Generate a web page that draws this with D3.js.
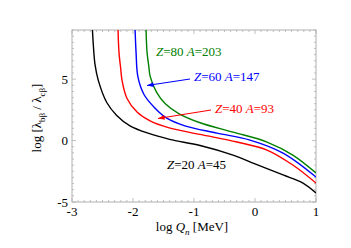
<!DOCTYPE html>
<html><head><meta charset="utf-8">
<script src="https://cdn.jsdelivr.net/npm/d3@7"></script>
<style>body{margin:0;background:#fff}svg{display:block}text{font-family:"Liberation Serif","Times New Roman",serif}</style>
</head><body><svg id="c" width="351" height="248"></svg>
<script>
const xTicks = [-3, -2, -1, 0, 1];
const yTicks = [-5, 0, 5];
const z20 = [[-2.667,9.2],[-2.65,7.76],[-2.623,6.2],[-2.569,4.9],[-2.43,3.1],[-2.267,2.05],[-2.049,1.2],[-1.754,0.6],[-1.4,0.1],[-0.9,-0.4],[-0.36,-1.18],[0.0,-1.9],[0.46,-2.8],[0.787,-3.46],[1.0,-4.27]];
const z40 = [[-2.246,9.2],[-2.23,7.2],[-2.2,5.8],[-2.18,4.9],[-2.1,3.45],[-1.93,2.3],[-1.72,1.6],[-1.42,1.05],[-0.9,0.5],[-0.295,-0.12],[0.197,-0.77],[0.62,-1.99],[1.0,-3.46]];
const z60 = [[-1.967,9.2],[-1.95,7.2],[-1.92,5.2],[-1.82,3.75],[-1.65,2.7],[-1.44,1.8],[-1.15,1.2],[-0.623,0.61],[-0.082,0.04],[0.46,-1.02],[1.0,-2.97]];
const z80 = [[-1.787,9.2],[-1.77,7.2],[-1.74,6.0],[-1.72,5.25],[-1.615,3.95],[-1.47,3.0],[-1.25,2.2],[-0.9,1.45],[-0.36,0.69],[0.197,-0.12],[0.62,-1.18],[1.0,-2.64]];
const seriesNames = ["Z=20 A=45","Z=40 A=93","Z=60 A=147","Z=80 A=203"];
const seriesColors = ["#000000","#ff0000","#0000ff","#008000"];

const svg = d3.select("#c");
const L=72,R=316,T=30,B=202;
const x = d3.scaleLinear().domain([-3,1]).range([L,R]);
const y = d3.scaleLinear().domain([-5,9]).range([B,T]);
const frame="#b0b0b0";

svg.append("defs").append("clipPath").attr("id","clip").append("rect").attr("x",L).attr("y",T).attr("width",R-L).attr("height",B-T);

// minor ticks
const g = svg.append("g");
const xMinor = d3.range(-3,1.0001,0.1);
const yMinor = d3.range(-5,9.0001,0.5);
xMinor.forEach(v=>{
  const major = Math.abs(v-Math.round(v))<1e-6;
  const len = major?4:2;
  g.append("line").attr("x1",x(v)).attr("x2",x(v)).attr("y1",B).attr("y2",B-len).attr("stroke",frame).attr("stroke-width",0.8);
  g.append("line").attr("x1",x(v)).attr("x2",x(v)).attr("y1",T).attr("y2",T+len).attr("stroke",frame).attr("stroke-width",0.8);
});
yMinor.forEach(v=>{
  const major = Math.abs(v/5-Math.round(v/5))<1e-6;
  const len = major?4:2;
  g.append("line").attr("y1",y(v)).attr("y2",y(v)).attr("x1",L).attr("x2",L+len).attr("stroke",frame).attr("stroke-width",0.8);
  g.append("line").attr("y1",y(v)).attr("y2",y(v)).attr("x1",R).attr("x2",R-len).attr("stroke",frame).attr("stroke-width",0.8);
});
g.append("rect").attr("x",L).attr("y",T).attr("width",R-L).attr("height",B-T).attr("fill","none").attr("stroke",frame).attr("stroke-width",1);

// tick labels
xTicks.forEach(v=>svg.append("text").attr("x",x(v)).attr("y",B+14).attr("text-anchor","middle").attr("font-size",13).text(v<0?"-"+Math.abs(v):v));
yTicks.forEach(v=>svg.append("text").attr("x",L-4).attr("y",y(v)+4.5).attr("text-anchor","end").attr("font-size",13).text(v<0?"-"+Math.abs(v):v));

// curves
const line = d3.line().x(d=>x(d[0])).y(d=>y(d[1])).curve(d3.curveCatmullRom.alpha(0.5));
[z20,z40,z60,z80].forEach((s,i)=>{
  svg.append("path").attr("d",line(s)).attr("clip-path","url(#clip)").attr("fill","none").attr("stroke",seriesColors[i]).attr("stroke-width",1.4);
});

// labels
function lab(px,py,name,color){
  const parts=name.split(" ");
  const z=parts[0].split("="), a=parts[1].split("=");
  const t=svg.append("text").attr("x",px).attr("y",py).attr("font-size",13).attr("fill",color);
  t.append("tspan").attr("font-style","italic").text(z[0]);
  t.append("tspan").text("="+z[1]+" ");
  t.append("tspan").attr("font-style","italic").text(a[0]);
  t.append("tspan").text("="+a[1]);
}
lab(156,56,seriesNames[3],seriesColors[3]);
lab(194,81,seriesNames[2],seriesColors[2]);
lab(215,113,seriesNames[1],seriesColors[1]);
lab(167,169,seriesNames[0],seriesColors[0]);

// arrows
function arrow(x1,y1,x2,y2,color){
  svg.append("line").attr("x1",x1).attr("y1",y1).attr("x2",x2).attr("y2",y2).attr("stroke",color).attr("stroke-width",1.2);
  const ang=Math.atan2(y2-y1,x2-x1), l=7, w=0.35;
  const p=[[x2,y2],[x2-l*Math.cos(ang-w),y2-l*Math.sin(ang-w)],[x2-l*Math.cos(ang+w),y2-l*Math.sin(ang+w)]];
  svg.append("path").attr("d","M"+p.map(q=>q.join(",")).join("L")+"Z").attr("fill",color);
}
arrow(190,79,147,85.5,seriesColors[2]);
arrow(211,110,158,118.5,seriesColors[1]);

// axis titles
const xl=svg.append("text").attr("x",192).attr("y",231).attr("text-anchor","middle").attr("font-size",13);
xl.append("tspan").text("log ");
xl.append("tspan").attr("font-style","italic").text("Q");
xl.append("tspan").attr("font-style","italic").attr("font-size",9).attr("dy",4).text("n");
xl.append("tspan").attr("dy",-4).text(" [MeV]");

const yl=svg.append("text").attr("transform","translate(41,118) rotate(-90)").attr("text-anchor","middle").attr("font-size",13);
yl.append("tspan").text("log [λ");
yl.append("tspan").attr("font-size",9).attr("dy",4).text("bβ");
yl.append("tspan").attr("dy",-4).text(" / λ");
yl.append("tspan").attr("font-size",9).attr("dy",4).text("cβ");
yl.append("tspan").attr("dy",-4).text("]");
</script></body></html>
